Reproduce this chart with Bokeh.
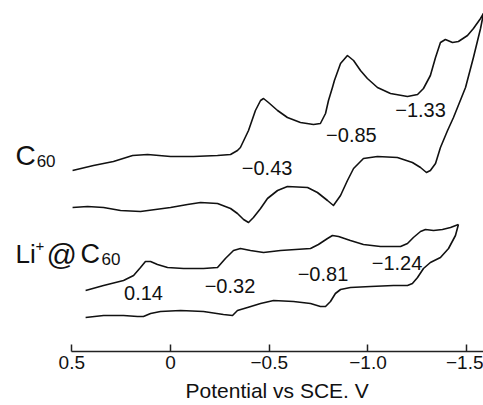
from bokeh.plotting import figure
from bokeh.models import Range1d, FixedTicker, Label, Title
from bokeh.embed import file_html
from bokeh.resources import INLINE

# ---- data: potential (V vs SCE) and current (arbitrary units, offset per trace) ----
c60_fwd_E = [0.496, 0.390, 0.289, 0.192, 0.116, 0.0, -0.116, -0.238, -0.304, -0.339, -0.354,
             -0.395, -0.430, -0.456, -0.471, -0.496, -0.542, -0.592, -0.658, -0.724, -0.759,
             -0.785, -0.800, -0.820, -0.830, -0.861, -0.896, -0.927, -0.962, -0.997, -1.048,
             -1.114, -1.200, -1.251, -1.281, -1.316, -1.342, -1.367, -1.392, -1.428, -1.458,
             -1.504, -1.534, -1.570, -1.585]
c60_fwd_I = [183, 188, 192, 198, 199, 197, 197, 198, 199, 203, 206,
             223, 243, 253, 255, 251, 243, 236, 231, 229, 230,
             240, 253, 266, 273, 290, 298, 293, 283, 275, 266,
             260, 257, 259, 265, 278, 296, 311, 314, 311, 312,
             318, 325, 335, 340]
c60_rev_E = [-1.585, -1.570, -1.534, -1.494, -1.433, -1.403, -1.367, -1.342, -1.316, -1.296,
             -1.266, -1.225, -1.149, -1.048, -0.977, -0.927, -0.896, -0.861, -0.825, -0.795,
             -0.744, -0.694, -0.592, -0.542, -0.491, -0.456, -0.420, -0.395, -0.370, -0.339,
             -0.304, -0.238, -0.152, -0.086, 0.0, 0.152, 0.253, 0.339, 0.420, 0.496]
c60_rev_I = [340, 325, 296, 266, 236, 223, 206, 190, 183, 181,
             186, 191, 196, 197, 195, 185, 173, 158, 148, 153,
             161, 166, 167, 163, 155, 145, 136, 131, 134, 140,
             145, 150, 151, 149, 146, 142, 143, 146, 147, 146]

li_fwd_E = [0.430, 0.339, 0.238, 0.187, 0.152, 0.127, 0.101, 0.066, 0.015, -0.066, -0.167,
            -0.238, -0.278, -0.319, -0.354, -0.405, -0.471, -0.557, -0.709, -0.749, -0.795,
            -0.820, -0.851, -0.911, -0.977, -1.063, -1.165, -1.200, -1.230, -1.266, -1.291,
            -1.332, -1.377, -1.418, -1.458]
li_fwd_I = [63, 68, 73, 78, 86, 92, 92, 89, 86, 85, 85,
            86, 95, 103, 105, 103, 101, 103, 105, 109, 115,
            118, 117, 113, 109, 107, 107, 110, 116, 122, 124,
            123, 124, 126, 129]
li_rev_E = [-1.458, -1.443, -1.408, -1.367, -1.316, -1.281, -1.251, -1.225, -1.200, -1.129,
            -1.013, -0.911, -0.861, -0.835, -0.810, -0.785, -0.759, -0.709, -0.623, -0.522,
            -0.456, -0.390, -0.339, -0.314, -0.268, -0.167, -0.051, 0.051, 0.101, 0.137,
            0.167, 0.238, 0.339, 0.430]
li_rev_I = [129, 118, 105, 96, 91, 85, 76, 70, 68, 68,
            67, 66, 64, 60, 52, 47, 47, 50, 52, 53,
            50, 46, 43, 38, 39, 42, 43, 42, 40, 37,
            37, 38, 38, 36]

# peak potential annotations
c60_peaks = ["\u22120.43", "\u22120.85", "\u22121.33"]
li_peaks = ["0.14", "\u22120.32", "\u22120.81", "\u22121.24"]

tick_values = [0.5, 0, -0.5, -1.0, -1.5]
tick_labels = ["0.5", "0", "\u22120.5", "\u22121.0", "\u22121.5"]
x_title = "Potential vs SCE. V"

# ---- layout ----
FONT = "Liberation Sans"
p = figure(frame_width=483, frame_height=351,
           x_range=Range1d(0.861, -1.585), y_range=Range1d(2, 353),
           output_backend="svg", toolbar_location=None, y_axis_location=None,
           min_border_left=0, min_border_right=0, min_border_top=0, min_border_bottom=0)
p.outline_line_color = None
p.xgrid.visible = False
p.ygrid.visible = False
p.background_fill_color = "white"
p.border_fill_color = "white"

ax = p.xaxis[0]
ax.ticker = FixedTicker(ticks=tick_values)
ax.major_label_overrides = dict(zip(tick_values, tick_labels))
ax.bounds = (-1.6, 0.5)
ax.minor_tick_line_color = None
ax.major_tick_in = 7
ax.major_tick_out = 0
ax.major_tick_line_width = 1.5
ax.major_tick_line_color = "#222222"
ax.axis_line_width = 1.5
ax.axis_line_color = "#222222"
ax.major_label_standoff = 4
ax.major_label_text_font = FONT
ax.major_label_text_font_size = "19px"
ax.major_label_text_color = "#111111"

# axis title, placed under the drawn extent of the axis
p.add_layout(Title(text=x_title, align="left", offset=185, standoff=10,
                   text_font=FONT, text_font_size="21px", text_font_style="normal",
                   text_color="#111111"), "below")

lw = 1.6
col = "#111111"
for E, I in [(c60_fwd_E, c60_fwd_I), (c60_rev_E, c60_rev_I),
             (li_fwd_E, li_fwd_I), (li_rev_E, li_rev_I)]:
    p.line(E, I, line_color=col, line_width=lw, line_join="round")

# peak labels
c60_pos = [(-0.489, 186), (-0.916, 219), (-1.266, 244)]
li_pos = [(0.137, 61), (-0.301, 68), (-0.772, 80), (-1.147, 91)]
for txt, (x, y) in list(zip(c60_peaks, c60_pos)) + list(zip(li_peaks, li_pos)):
    p.add_layout(Label(x=x, y=y, text=txt, text_align="center", text_baseline="middle",
                       text_font=FONT, text_font_size="20px", text_color=col))

# trace names
def lab(x, y, t, size):
    p.add_layout(Label(x=x, y=y, text=t, text_align="left", text_baseline="alphabetic",
                       text_font=FONT, text_font_size=size, text_color=col))

lab(0.785, 198, "C", "28px")
lab(0.678, 193, "60", "17px")
lab(0.785, 100, "Li", "26px")
lab(0.684, 108, "+", "15px")
lab(0.628, 99, "@", "30px")
lab(0.456, 100, "C", "27px")
lab(0.349, 95, "60", "17px")

open("out.html", "w").write(file_html(p, INLINE))
